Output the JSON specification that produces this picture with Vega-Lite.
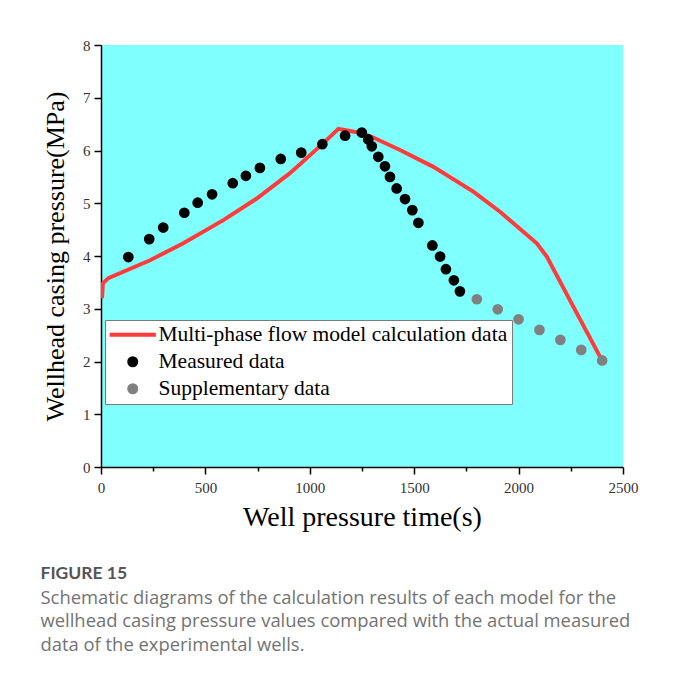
{
  "$schema": "https://vega.github.io/schema/vega-lite/v6.json",
  "width": 522,
  "height": 422,
  "autosize": {"type": "none"},
  "padding": {"left": 101, "top": 45, "right": 54, "bottom": 213},
  "background": "white",
  "config": {
    "view": {"fill": "#80FFFF", "stroke": null},
    "font": "Liberation Serif"
  },
  "title": {
    "text": "FIGURE 15",
    "subtitle": [
      "Schematic diagrams of the calculation results of each model for the",
      "wellhead casing pressure values compared with the actual measured",
      "data of the experimental wells."
    ],
    "orient": "bottom",
    "anchor": "start",
    "frame": "bounds",
    "font": "Lato",
    "fontSize": 17.5,
    "fontWeight": "bold",
    "color": "#555555",
    "subtitleFont": "Open Sans",
    "subtitleFontSize": 18.4,
    "subtitleColor": "#737373",
    "subtitleLineHeight": 23.5,
    "subtitlePadding": 6,
    "offset": 34,
    "dx": -2
  },
  "datasets": {
    "model": [
      {"t": 5, "p": 3.2},
      {"t": 9, "p": 3.48},
      {"t": 35, "p": 3.58},
      {"t": 235, "p": 3.92},
      {"t": 394, "p": 4.24},
      {"t": 586, "p": 4.68},
      {"t": 746, "p": 5.09},
      {"t": 905, "p": 5.57},
      {"t": 1065, "p": 6.14},
      {"t": 1137, "p": 6.41},
      {"t": 1180, "p": 6.38},
      {"t": 1249, "p": 6.33},
      {"t": 1296, "p": 6.26},
      {"t": 1432, "p": 6.01},
      {"t": 1592, "p": 5.69},
      {"t": 1783, "p": 5.22},
      {"t": 1911, "p": 4.84},
      {"t": 2087, "p": 4.24},
      {"t": 2135, "p": 3.99},
      {"t": 2262, "p": 3.04},
      {"t": 2398, "p": 2.03}
    ],
    "points": [
      {"t": 131, "p": 3.98, "series": "Measured data"},
      {"t": 231, "p": 4.32, "series": "Measured data"},
      {"t": 298, "p": 4.54, "series": "Measured data"},
      {"t": 399, "p": 4.82, "series": "Measured data"},
      {"t": 463, "p": 5.01, "series": "Measured data"},
      {"t": 532, "p": 5.17, "series": "Measured data"},
      {"t": 631, "p": 5.38, "series": "Measured data"},
      {"t": 694, "p": 5.52, "series": "Measured data"},
      {"t": 761, "p": 5.67, "series": "Measured data"},
      {"t": 861, "p": 5.84, "series": "Measured data"},
      {"t": 959, "p": 5.96, "series": "Measured data"},
      {"t": 1060, "p": 6.12, "series": "Measured data"},
      {"t": 1169, "p": 6.28, "series": "Measured data"},
      {"t": 1249, "p": 6.34, "series": "Measured data"},
      {"t": 1280, "p": 6.21, "series": "Measured data"},
      {"t": 1297, "p": 6.08, "series": "Measured data"},
      {"t": 1328, "p": 5.88, "series": "Measured data"},
      {"t": 1360, "p": 5.7, "series": "Measured data"},
      {"t": 1384, "p": 5.5, "series": "Measured data"},
      {"t": 1416, "p": 5.28, "series": "Measured data"},
      {"t": 1456, "p": 5.08, "series": "Measured data"},
      {"t": 1491, "p": 4.87, "series": "Measured data"},
      {"t": 1520, "p": 4.63, "series": "Measured data"},
      {"t": 1587, "p": 4.2, "series": "Measured data"},
      {"t": 1624, "p": 3.99, "series": "Measured data"},
      {"t": 1652, "p": 3.75, "series": "Measured data"},
      {"t": 1690, "p": 3.54, "series": "Measured data"},
      {"t": 1719, "p": 3.33, "series": "Measured data"},
      {"t": 1800, "p": 3.18, "series": "Supplementary data"},
      {"t": 1900, "p": 2.99, "series": "Supplementary data"},
      {"t": 2000, "p": 2.8, "series": "Supplementary data"},
      {"t": 2100, "p": 2.6, "series": "Supplementary data"},
      {"t": 2200, "p": 2.41, "series": "Supplementary data"},
      {"t": 2300, "p": 2.22, "series": "Supplementary data"},
      {"t": 2400, "p": 2.02, "series": "Supplementary data"}
    ]
  },
  "encoding": {
    "x": {
      "field": "t",
      "type": "quantitative",
      "scale": {"domain": [0, 2500], "nice": false, "zero": false},
      "axis": {
        "title": "Well pressure time(s)",
        "values": [0, 250, 500, 750, 1000, 1250, 1500, 1750, 2000, 2250, 2500],
        "labelExpr": "datum.value % 500 === 0 ? datum.label : ''",
        "format": "d",
        "grid": false,
        "domainColor": "#000000",
        "domainWidth": 1.5,
        "tickColor": "#000000",
        "tickWidth": 1.5,
        "tickSize": {"condition": {"test": "datum.value % 500 !== 0", "value": 4}, "value": 7},
        "labelFont": "Liberation Serif",
        "labelFontSize": 15,
        "labelColor": "#333333",
        "labelPadding": 6,
        "labelFlush": false,
        "titleFont": "Liberation Serif",
        "titleFontSize": 28,
        "titleFontWeight": "normal",
        "titleColor": "#000000",
        "titlePadding": 8
      }
    },
    "y": {
      "field": "p",
      "type": "quantitative",
      "scale": {"domain": [0, 8], "nice": false},
      "axis": {
        "title": "Wellhead casing pressure(MPa)",
        "values": [0, 0.5, 1, 1.5, 2, 2.5, 3, 3.5, 4, 4.5, 5, 5.5, 6, 6.5, 7, 7.5, 8],
        "labelExpr": "datum.value % 1 === 0 ? datum.label : ''",
        "format": "d",
        "grid": false,
        "domainColor": "#000000",
        "domainWidth": 1.5,
        "tickColor": "#000000",
        "tickWidth": 1.5,
        "tickSize": {"condition": {"test": "datum.value % 1 !== 0", "value": 4}, "value": 7},
        "labelFont": "Liberation Serif",
        "labelFontSize": 15,
        "labelColor": "#333333",
        "labelPadding": 4,
        "labelFlush": false,
        "titleFont": "Liberation Serif",
        "titleFontSize": 26,
        "titleFontWeight": "normal",
        "titleColor": "#000000",
        "titlePadding": 14
      }
    }
  },
  "layer": [
    {
      "data": {"name": "model"},
      "mark": {"type": "line", "color": "#FF3B3B", "strokeWidth": 4, "clip": true}
    },
    {
      "data": {"name": "points"},
      "mark": {"type": "point", "filled": true, "size": 115, "opacity": 1},
      "encoding": {
        "color": {
          "field": "series",
          "type": "nominal",
          "scale": {
            "domain": ["Multi-phase flow model calculation data", "Measured data", "Supplementary data"],
            "range": ["#FF3B3B", "#000000", "#808080"]
          },
          "legend": {
            "title": null,
            "orient": "none",
            "legendX": 4,
            "legendY": 275,
            "fillColor": "#FFFFFF",
            "strokeColor": "#7a7a7a",
            "padding": 4,
            "symbolOffset": 13,
            "symbolSize": 121,
            "labelOffset": 15,
            "labelFont": "Liberation Serif",
            "labelFontSize": 21.5,
            "labelColor": "#000000",
            "labelLimit": 600,
            "rowPadding": 4,
            "symbolOpacity": 1,
            "encode": {
              "symbols": {
                "update": {
                  "stroke": {"scale": "color", "field": "value"},
                  "strokeWidth": {"signal": "datum.index === 0 ? 4 : 0"}
                }
              }
            }
          }
        },
        "shape": {
          "field": "series",
          "type": "nominal",
          "scale": {
            "domain": ["Multi-phase flow model calculation data", "Measured data", "Supplementary data"],
            "range": ["M-4.2,0H4.2", "circle", "circle"]
          },
          "legend": {
            "title": null,
            "orient": "none",
            "legendX": 4,
            "legendY": 275
          }
        }
      }
    }
  ]
}
